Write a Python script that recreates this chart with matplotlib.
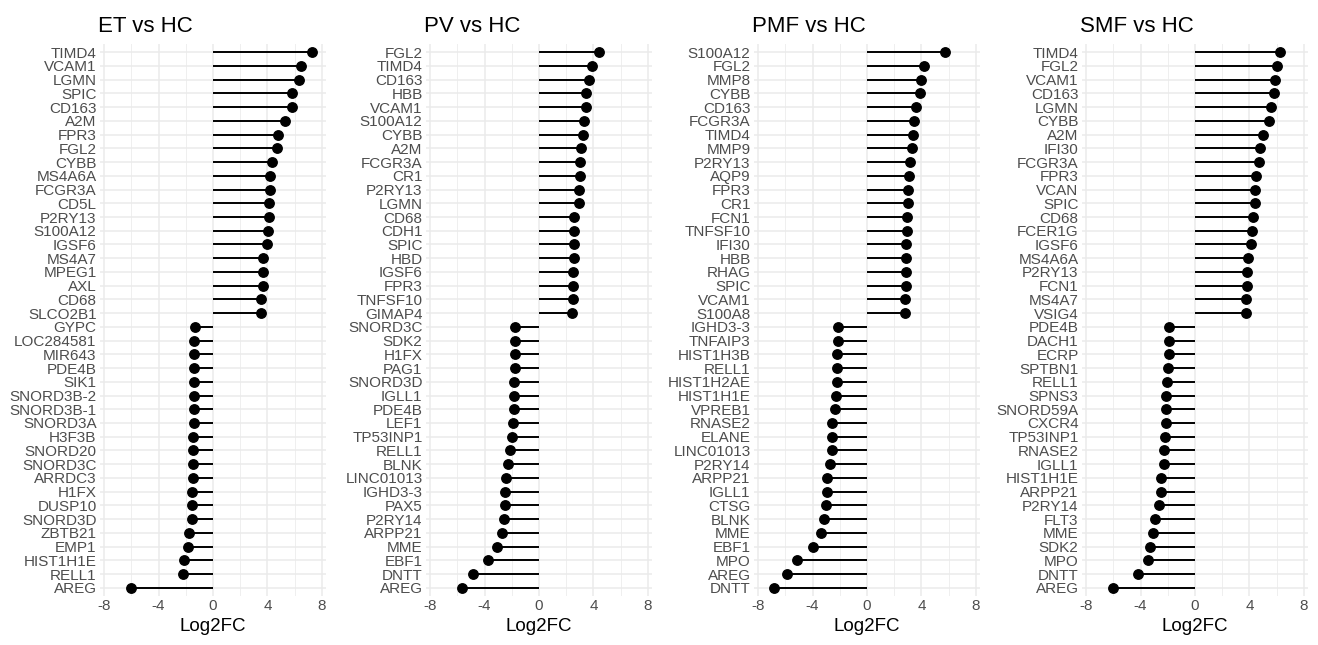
import matplotlib
matplotlib.use("Agg")
import matplotlib.pyplot as plt
from matplotlib.ticker import MultipleLocator

plt.rcParams['font.family'] = ['Liberation Sans', 'DejaVu Sans']
plt.rcParams['axes.unicode_minus'] = False

et_genes = ["TIMD4", "VCAM1", "LGMN", "SPIC", "CD163", "A2M", "FPR3", "FGL2", "CYBB", "MS4A6A",
            "FCGR3A", "CD5L", "P2RY13", "S100A12", "IGSF6", "MS4A7", "MPEG1", "AXL", "CD68", "SLCO2B1",
            "GYPC", "LOC284581", "MIR643", "PDE4B", "SIK1", "SNORD3B-2", "SNORD3B-1", "SNORD3A", "H3F3B", "SNORD20",
            "SNORD3C", "ARRDC3", "H1FX", "DUSP10", "SNORD3D", "ZBTB21", "EMP1", "HIST1H1E", "RELL1", "AREG"]
et_fc = [7.25, 6.5, 6.3, 5.82, 5.82, 5.28, 4.75, 4.7, 4.36, 4.22,
         4.17, 4.12, 4.12, 4.02, 3.95, 3.68, 3.68, 3.66, 3.56, 3.52,
         -1.33, -1.36, -1.36, -1.38, -1.41, -1.43, -1.43, -1.43, -1.45, -1.45,
         -1.48, -1.5, -1.53, -1.53, -1.55, -1.79, -1.82, -2.11, -2.2, -6.01]

pv_genes = ["FGL2", "TIMD4", "CD163", "HBB", "VCAM1", "S100A12", "CYBB", "A2M", "FCGR3A", "CR1",
            "P2RY13", "LGMN", "CD68", "CDH1", "SPIC", "HBD", "IGSF6", "FPR3", "TNFSF10", "GIMAP4",
            "SNORD3C", "SDK2", "H1FX", "PAG1", "SNORD3D", "IGLL1", "PDE4B", "LEF1", "TP53INP1", "RELL1",
            "BLNK", "LINC01013", "IGHD3-3", "PAX5", "P2RY14", "ARPP21", "MME", "EBF1", "DNTT", "AREG"]
pv_fc = [4.4, 3.87, 3.68, 3.46, 3.46, 3.27, 3.22, 3.12, 3.0, 3.0,
         2.96, 2.91, 2.6, 2.6, 2.55, 2.55, 2.5, 2.48, 2.48, 2.43,
         -1.75, -1.75, -1.78, -1.78, -1.8, -1.83, -1.85, -1.92, -1.95, -2.12,
         -2.26, -2.45, -2.48, -2.52, -2.57, -2.74, -3.08, -3.77, -4.83, -5.67]

pmf_genes = ["S100A12", "FGL2", "MMP8", "CYBB", "CD163", "FCGR3A", "TIMD4", "MMP9", "P2RY13", "AQP9",
             "FPR3", "CR1", "FCN1", "TNFSF10", "IFI30", "HBB", "RHAG", "SPIC", "VCAM1", "S100A8",
             "IGHD3-3", "TNFAIP3", "HIST1H3B", "RELL1", "HIST1H2AE", "HIST1H1E", "VPREB1", "RNASE2", "ELANE", "LINC01013",
             "P2RY14", "ARPP21", "IGLL1", "CTSG", "BLNK", "MME", "EBF1", "MPO", "AREG", "DNTT"]
pmf_fc = [5.73, 4.19, 4.0, 3.88, 3.57, 3.45, 3.37, 3.28, 3.16, 3.06,
          3.01, 2.99, 2.94, 2.92, 2.89, 2.87, 2.87, 2.84, 2.82, 2.77,
          -2.12, -2.14, -2.17, -2.22, -2.24, -2.31, -2.36, -2.55, -2.55, -2.58,
          -2.72, -2.92, -2.96, -3.01, -3.18, -3.37, -4.0, -5.13, -5.86, -6.8]

smf_genes = ["TIMD4", "FGL2", "VCAM1", "CD163", "LGMN", "CYBB", "A2M", "IFI30", "FCGR3A", "FPR3",
             "VCAN", "SPIC", "CD68", "FCER1G", "IGSF6", "MS4A6A", "P2RY13", "FCN1", "MS4A7", "VSIG4",
             "PDE4B", "DACH1", "ECRP", "SPTBN1", "RELL1", "SPNS3", "SNORD59A", "CXCR4", "TP53INP1", "RNASE2",
             "IGLL1", "HIST1H1E", "ARPP21", "P2RY14", "FLT3", "MME", "SDK2", "MPO", "DNTT", "AREG"]
smf_fc = [6.27, 6.0, 5.86, 5.78, 5.57, 5.45, 4.99, 4.8, 4.67, 4.46,
          4.41, 4.41, 4.27, 4.19, 4.1, 3.88, 3.83, 3.81, 3.78, 3.76,
          -1.88, -1.9, -1.93, -2.0, -2.07, -2.1, -2.12, -2.14, -2.24, -2.29,
          -2.31, -2.48, -2.5, -2.67, -2.96, -3.08, -3.28, -3.47, -4.19, -6.0]

titles = ["ET vs HC", "PV vs HC", "PMF vs HC", "SMF vs HC"]
panels = [(et_genes, et_fc), (pv_genes, pv_fc), (pmf_genes, pmf_fc), (smf_genes, smf_fc)]

W, H = 1318, 645
fig = plt.figure(figsize=(W / 100, H / 100), dpi=100)
lefts = [100, 426, 754, 1082]
pw = 226
top_px, bot_px = 44, 596

for (genes, fc), title, lp in zip(panels, titles, lefts):
    ax = fig.add_axes([lp / W, 1 - bot_px / H, pw / W, (bot_px - top_px) / H])
    n = len(genes)
    ys = [n - 1 - i for i in range(n)]
    ax.hlines(ys, 0, fc, color='black', lw=1.4, zorder=3)
    ax.plot(fc, ys, 'o', color='black', ms=6.8, zorder=4)
    ax.set_xlim(-8.3, 8.3)
    ax.set_ylim(-0.6, n - 0.4)
    ax.set_yticks(ys)
    ax.set_yticklabels(genes)
    ax.xaxis.set_major_locator(MultipleLocator(4))
    ax.xaxis.set_minor_locator(MultipleLocator(2))
    ax.grid(True, which='major', color='#EBEBEB', lw=1.1, zorder=0)
    ax.grid(True, which='minor', axis='x', color='#EFEFEF', lw=0.7, zorder=0)
    ax.set_axisbelow(True)
    for s in ax.spines.values():
        s.set_visible(False)
    ax.tick_params(axis='both', which='both', length=0, labelsize=11, labelcolor='#4D4D4D', pad=2.5)
    ax.set_xlabel("Log2FC", fontsize=13.5, color='black', labelpad=3)
    ax.set_title(title, fontsize=16, loc='left', pad=9, x=-0.01)

fig.savefig("out.png", dpi=100)
